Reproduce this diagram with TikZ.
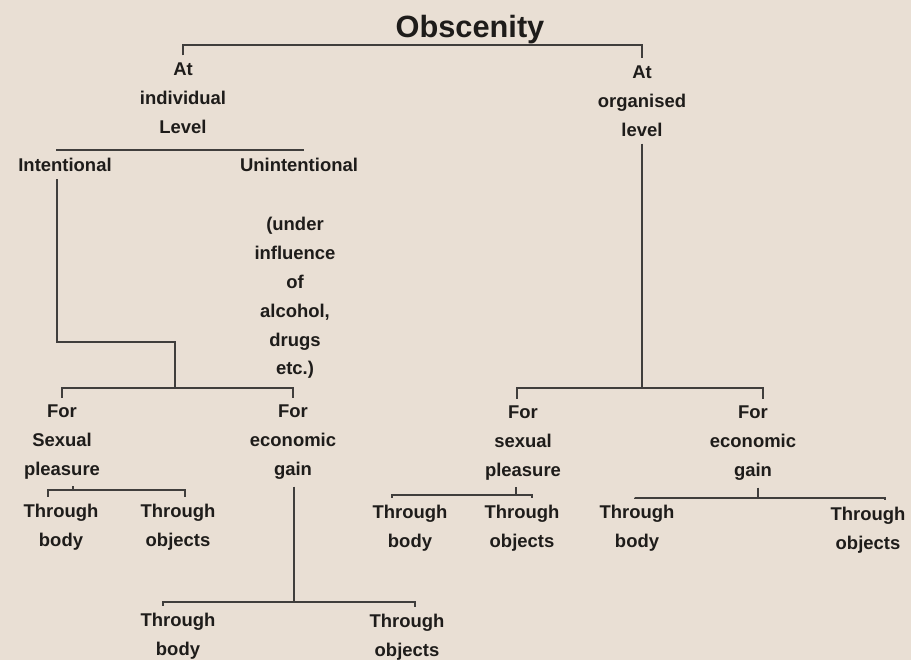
\documentclass[tikz,border=0pt]{standalone}
\usepackage{fontspec}
\setmainfont{Liberation Sans}
\usetikzlibrary{calc}
\definecolor{paper}{RGB}{233,223,212}
\definecolor{ink}{RGB}{30,28,26}
\begin{document}
\begin{tikzpicture}[x=0.02cm,y=-0.02cm,
	lbl/.style={align=center,inner xsep=1pt,inner ysep=4pt,text=ink,font=\bfseries\fontsize{10.5}{16.4}\selectfont},
	ttl/.style={inner sep=1pt,text=ink,font=\bfseries\fontsize{17.5}{20}\selectfont},
	link/.style={draw=ink!85,line width=1pt}]
	  \fill[paper] (0,0) rectangle (911,660);
	  \useasboundingbox (0,0) rectangle (911,660);
	  \node[ttl] (title) at (470,30) {Obscenity};
	  \node[lbl] (indiv) at (183,98) {At\\individual\\Level};
	  \node[lbl] (organ) at (642,101) {At\\organised\\level};
	  \node[lbl] (intent) at (65,165) {Intentional};
	  \node[lbl] (unint) at (299,165) {Unintentional};
	  \node[lbl] (under) at (295,298) {(under\\influence\\of\\alcohol,\\drugs\\etc.)};
	  \node[lbl] (lsex) at (62,442) {For\\Sexual\\pleasure};
	  \node[lbl] (lecon) at (293,442) {For\\economic\\gain};
	  \node[lbl] (lsbody) at (61,527) {Through\\body};
	  \node[lbl] (lsobj) at (178,527) {Through\\objects};
	  \node[lbl] (lebody) at (178,636) {Through\\body};
	  \node[lbl] (leobj) at (407,637) {Through\\objects};
	  \node[lbl] (rsex) at (523,443) {For\\sexual\\pleasure};
	  \node[lbl] (recon) at (753,443) {For\\economic\\gain};
	  \node[lbl] (rsbody) at (410,528) {Through\\body};
	  \node[lbl] (rsobj) at (522,528) {Through\\objects};
	  \node[lbl] (rebody) at (637,528) {Through\\body};
	  \node[lbl] (reobj) at (868,530) {Through\\objects};
	  \coordinate (barT) at (411,45);
	  \coordinate (barI) at (180,150);
	  \coordinate (kneeI) at (175,342);
	  \coordinate (barS) at (175,388);
	  \coordinate (barLS) at (73,490);
	  \coordinate (barLE) at (294,602);
	  \coordinate (barO) at (642,388);
	  \coordinate (barRS) at (516,495);
	  \coordinate (barRE) at (758,498);
	  \draw[link] (indiv.north) |- (barT) -| (organ.north);
	  \draw[link] ($(intent.north)+(-8,0)$) |- (barI) -| ($(unint.north)+(4,0)$);
	  \draw[link] ($(intent.south)+(-8,0)$) |- (kneeI) -- (barS);
	  \draw[link] (lsex.north) |- (barS) -| (lecon.north);
	  \draw[link] (barLS |- lsex.south) -- (barLS);
	  \draw[link] ($(lsbody.north)+(-13,0)$) |- (barLS) -| ($(lsobj.north)+(7,0)$);
	  \draw[link] (barLE |- lecon.south) -- (barLE);
	  \draw[link] ($(lebody.north)+(-15,0)$) |- (barLE) -| ($(leobj.north)+(8,0)$);
	  \draw[link] (organ.south) -- (barO);
	  \draw[link] ($(rsex.north)+(-6,0)$) |- (barO) -| ($(recon.north)+(10,0)$);
	  \draw[link] (barRS |- rsex.south) -- (barRS);
	  \draw[link] ($(rsbody.north)+(-18,0)$) |- (barRS) -| ($(rsobj.north)+(10,0)$);
	  \draw[link] (barRE |- recon.south) -- (barRE);
	  \draw[link] ($(rebody.north)+(-2,0)$) |- (barRE) -| ($(reobj.north)+(17,0)$);
	\end{tikzpicture}
\end{document}
